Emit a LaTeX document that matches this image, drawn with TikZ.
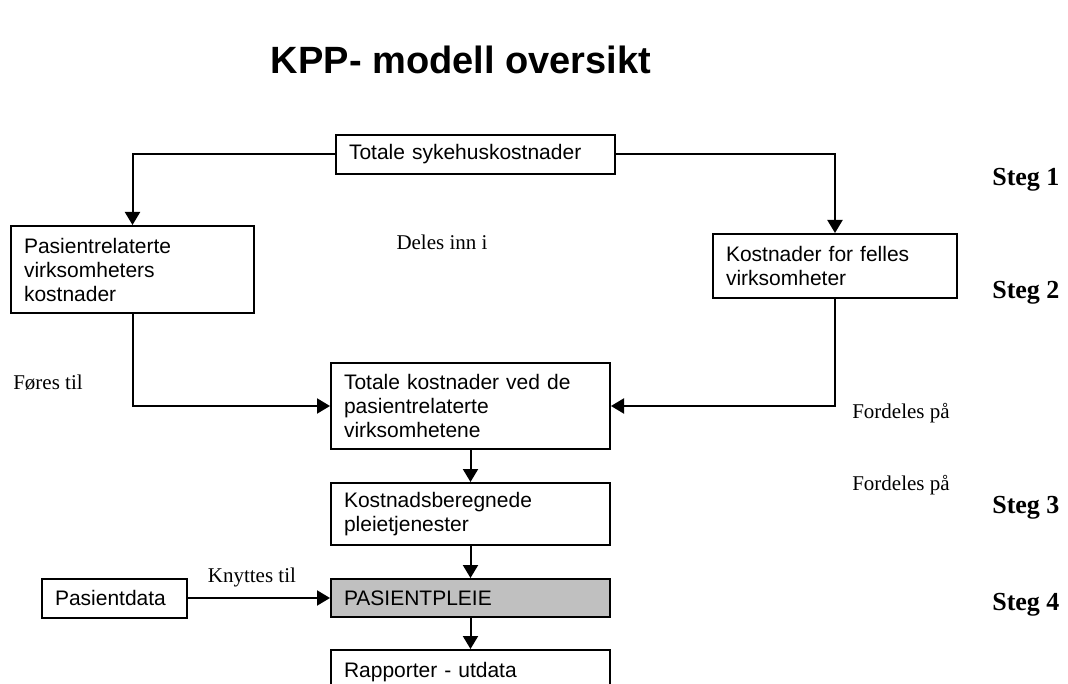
\documentclass[tikz,border=0pt]{standalone}
\usepackage{fontspec}
\setmainfont{Liberation Serif}
\setsansfont{Liberation Sans}
\usepackage{tikz}
\usetikzlibrary{arrows.meta,positioning}
\definecolor{pleiegray}{RGB}{192,192,192}

\begin{document}
\begin{tikzpicture}[x=1pt,y=-1pt]%[->,>=stealth', semithick]
\tikzstyle{box}=[draw, shape=rectangle, line width=2pt, anchor=north west, align=left, inner xsep=13pt, inner ysep=1pt, font=\sffamily\fontsize{21}{24}\selectfont]
\tikzstyle{flow}=[line width=2pt, -{Triangle[length=13pt,width=15pt]}]
\tikzstyle{note}=[font=\fontsize{21}{24}\selectfont]
\tikzstyle{steg}=[anchor=east, font=\bfseries\fontsize{26}{30}\selectfont]
\clip (0,0) rectangle (1068,684);
\node[font=\sffamily\bfseries\fontsize{38}{44}\selectfont] (title) at (461,60) {KPP- modell oversikt};
\node[box, text width=253pt, minimum height=39pt] (0) at (335,134) {Totale sykehuskostnader};
\node[box, text width=217pt, minimum height=87pt] (1) at (10,225) {Pasientrelaterte\\virksomheters\\kostnader};
\node[box, text width=218pt, minimum height=64pt] (2) at (712,233) {Kostnader for felles\\virksomheter};
\node[box, text width=253pt, minimum height=86pt] (3) at (330,362) {Totale kostnader ved de\\pasientrelaterte\\virksomhetene};
\node[box, text width=253pt, minimum height=62pt] (4) [below=32pt of 3] {Kostnadsberegnede\\pleietjenester};
\node[box, fill=pleiegray, text width=253pt, minimum height=38pt] (5) [below=32pt of 4] {PASIENTPLEIE};
\node[box, text width=253pt, minimum height=44pt] (6) [below=31pt of 5] {Rapporter - utdata};
\node[box, text width=119pt, minimum height=39pt] (7) at (41,577.5) {Pasientdata};
%\node[box] (8) [below=1cm of 7] {Utdata};

\draw[flow] (0.west) -| (1.north);
\draw[flow] (0.east) -| (2.north);
\draw[flow] (1.south) |- (3.west);
\draw[flow] (2.south) |- (3.east);
\draw[flow] (3.south) to (4.north);
\draw[flow] (4.south) to (5.north);
\draw[flow] (5.south) to (6.north);
\draw[flow] (7.east) to node[note, above=7pt, pos=0.45] (8) {Knyttes til} (5.west);

\node[note] (9) at (442,242) {Deles inn i};
\node[note] (10) at (48,383) {Føres til};
\node[note] (11) at (901,413) {Fordeles på};
\node[note] (12) at (901,485) {Fordeles på};
\node[steg] (13) at (1063,180) {Steg 1};
\node[steg] (14) at (1063,293) {Steg 2};
\node[steg] (15) at (1063,508) {Steg 3};
\node[steg] (16) at (1063,605) {Steg 4};
\end{tikzpicture}
\end{document}
